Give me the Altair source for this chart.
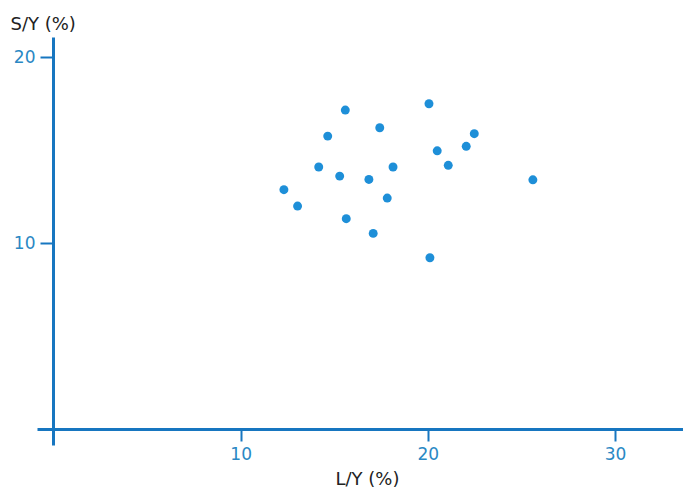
import altair as alt
import pandas as pd

# Data
ly = [12.31, 13.04, 14.17, 14.65, 15.59, 15.29, 15.64, 16.85, 17.08, 17.43,
      17.83, 18.14, 20.06, 20.11, 20.50, 21.09, 22.05, 22.48, 25.61]
sy = [12.87, 11.99, 14.09, 15.75, 17.15, 13.60, 11.31, 13.42, 10.52, 16.20,
      12.42, 14.09, 17.49, 9.21, 14.96, 14.18, 15.20, 15.88, 13.40]
x_ticks = [10, 20, 30]
y_ticks = [10, 20]

df = pd.DataFrame({"ly": ly, "sy": sy})

AXIS_BLUE = "#1776c0"
LABEL_BLUE = "#2a88c4"
POINT_BLUE = "#1e8fd8"
FONT = "DejaVu Sans"

chart = alt.Chart(df).mark_circle(size=80, opacity=1, color=POINT_BLUE).encode(
    x=alt.X("ly:Q",
            scale=alt.Scale(domain=[-0.88, 33.63], nice=False, zero=False),
            axis=alt.Axis(values=x_ticks, offset=-16, grid=False,
                          domainColor=AXIS_BLUE, domainWidth=3,
                          tickColor=AXIS_BLUE, tickWidth=2, tickSize=12,
                          labelColor=LABEL_BLUE, labelFontSize=17, labelFont=FONT,
                          labelPadding=5, labelFlush=False,
                          title="L/Y (%)", titleFont=FONT, titleFontSize=18,
                          titleFontWeight="normal", titleColor="#222222",
                          titleX=330, titleY=55, titleAlign="center",
                          titleBaseline="alphabetic")),
    y=alt.Y("sy:Q",
            scale=alt.Scale(domain=[-0.86, 21.08], nice=False, zero=False),
            axis=alt.Axis(values=y_ticks, offset=-16, grid=False,
                          domainColor=AXIS_BLUE, domainWidth=3,
                          tickColor=AXIS_BLUE, tickWidth=2, tickSize=13,
                          labelColor=LABEL_BLUE, labelFontSize=17, labelFont=FONT,
                          labelPadding=5, labelFlush=False,
                          title="S/Y (%)", titleFont=FONT, titleFontSize=18,
                          titleFontWeight="normal", titleColor="#222222",
                          titleAngle=0, titleX=-43, titleY=-8,
                          titleAlign="left", titleBaseline="alphabetic")),
).properties(
    width=646, height=408,
    background="white",
    autosize=alt.AutoSizeParams(type="none"),
    padding={"left": 37, "top": 37, "right": 0, "bottom": 44},
).configure_view(strokeWidth=0, stroke=None)

chart.save("out.html", embed_options={"renderer": "svg", "actions": False})
